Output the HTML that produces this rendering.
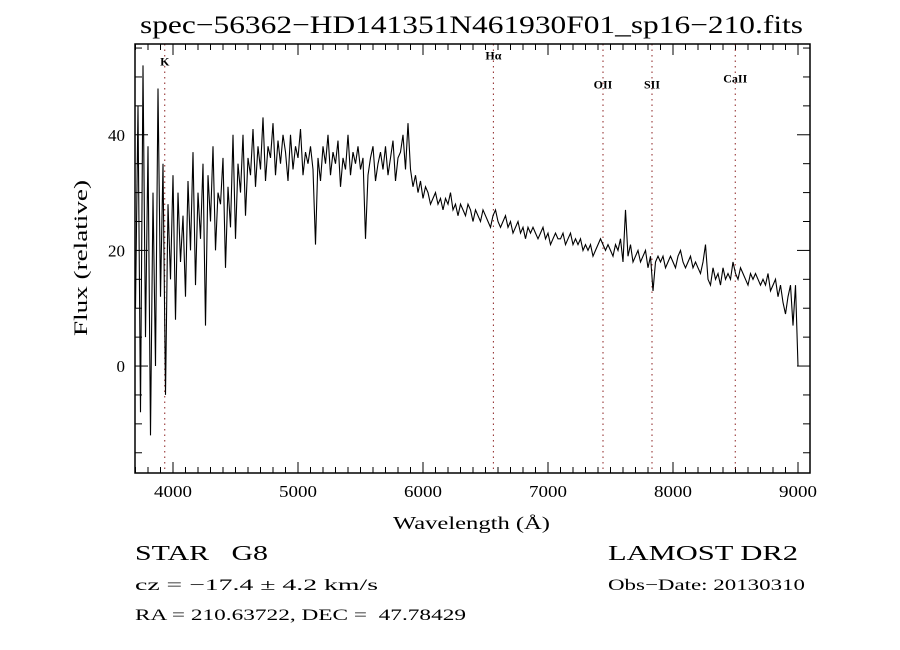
<!DOCTYPE html>
<html><head><meta charset="utf-8">
<style>
html,body{margin:0;padding:0;background:#fff;}
svg{display:block;font-family:"Liberation Serif",serif;}
</style></head>
<body>
<svg id="chart" width="900" height="650" viewBox="0 0 900 650">
<rect x="0" y="0" width="900" height="650" fill="#fff"/>
<text x="140" y="33" textLength="663" lengthAdjust="spacingAndGlyphs" font-size="25">spec−56362−HD141351N461930F01_sp16−210.fits</text>
<text x="393" y="529" textLength="157" lengthAdjust="spacingAndGlyphs" font-size="18">Wavelength (Å)</text>
<text transform="translate(87,336) rotate(-90)" textLength="156" lengthAdjust="spacingAndGlyphs" font-size="19">Flux (relative)</text>
<g id="axes"></g>
<g id="lines"></g>
<path id="spec" fill="none" stroke="#000" stroke-width="1.1"/>
<rect x="135" y="44" width="675" height="429" fill="none" stroke="#000" stroke-width="1.5"/>
<text x="135" y="560" textLength="133" lengthAdjust="spacingAndGlyphs" font-size="21">STAR &#160;&#160;G8</text>
<text x="608" y="560" textLength="190" lengthAdjust="spacingAndGlyphs" font-size="21">LAMOST DR2</text>
<text x="135" y="590" textLength="243" lengthAdjust="spacingAndGlyphs" font-size="16">cz = −17.4 ± 4.2 km/s</text>
<text x="608" y="590" textLength="197" lengthAdjust="spacingAndGlyphs" font-size="16">Obs−Date: 20130310</text>
<text x="135" y="620" textLength="331" lengthAdjust="spacingAndGlyphs" font-size="16">RA = 210.63722, DEC = &#160;47.78429</text>
</svg>
<script>
const xTicks = [4000,5000,6000,7000,8000,9000];
const yTicks = [0,20,40];
const lineNames = ["K","Hα","OII","SII","CaII"];
const lineWaves = [3934,6563,7440,7832,8498];
const lineLabelY = [52,53,48,48,49];
const wlStart = 3700, wlStep = 20;
const flux = [
10,45,-8,52,5,38,-12,30,0,48,
12,35,-5,28,15,33,8,30,18,26,
12,32,20,37,14,30,22,35,7,33,
25,38,20,30,28,36,17,31,24,40,
22,35,30,40,26,36,33,41,31,38,
34,43,32,38,36,42,33,39,35,40,
37,32,40,34,38,36,41,33,37,35,
38,34,21,36,32,38,35,40,33,37,
35,39,31,36,34,40,33,37,35,38,
34,36,22,33,36,38,32,35,37,34,
38,33,36,39,32,36,37,40,34,42,
34,31,33,30,32,29,31,30,28,29,
30,28,29,27,29,28,30,27,28,26,
28,27,26,28,27,25,27,26,25,27,
26,25,24,26,27,25,24,25,26,24,
25,23,24,25,23,24,22,24,23,24,
23,22,23,24,22,23,21,22,23,22,
22,23,21,22,23,21,22,21,22,20,
21,20,21,19,20,21,22,21,20,21,
20,19,21,20,22,18,27,19,21,18,
19,20,18,19,20,17,19,13,18,19,
18,19,17,18,19,18,17,19,20,18,
17,18,19,17,18,17,16,18,21,15,
14,17,15,16,14,17,15,16,15,18,
16,15,17,16,15,14,16,15,16,15,
14,15,14,16,13,14,15,12,14,11,
9,12,14,7,14,0
];
const X0=135,X1=810,Y0=44,Y1=473;
const xMin=3696,xMax=9096,yMin=-18.5,yMax=55.7;
const sx=v=>X0+(v-xMin)/(xMax-xMin)*(X1-X0);
const sy=v=>Y1-(v-yMin)/(yMax-yMin)*(Y1-Y0);
const NS="http://www.w3.org/2000/svg";
const axes=document.getElementById('axes');
function mk(tag,attrs,parent){const e=document.createElementNS(NS,tag);for(const k in attrs)e.setAttribute(k,attrs[k]);parent.appendChild(e);return e;}
for(let w=3700;w<=9096;w+=100){
  const major=w%1000===0;const L=major?11:6;const x=sx(w);
  const t=mk('line',{x1:x,x2:x,y1:Y1,y2:Y1-L,stroke:'#000','stroke-width':1},axes);
  
  
  const t2=mk('line',{x1:x,x2:x,y1:Y0,y2:Y0+L,stroke:'#000','stroke-width':1},axes);
  
  
}
xTicks.forEach(w=>{
  const t=mk('text',{x:sx(w)-19,y:Y1+24,textLength:38,lengthAdjust:'spacingAndGlyphs','font-size':17},axes);
  t.textContent=w;
  
  
});
for(let v=-15;v<=55;v+=5){
  const major=v%20===0;const L=major?13:7;const y=sy(v);
  const t=mk('line',{x1:X0,x2:X0+L,y1:y,y2:y,stroke:'#000','stroke-width':1},axes);
  
  
  const t2=mk('line',{x1:X1,x2:X1-L,y1:y,y2:y,stroke:'#000','stroke-width':1},axes);
  
  
}
yTicks.forEach(v=>{
  const t=mk('text',{x:X0-10,y:sy(v)+6,'text-anchor':'end','font-size':17},axes);
  t.textContent=v;
  
  
});
const lg=document.getElementById('lines');
lineWaves.forEach((w,i)=>{
  const x=sx(w);
  const l=mk('line',{x1:x,x2:x,y1:Y0,y2:Y1,stroke:'#8b2020','stroke-width':1,'stroke-dasharray':'1.5,4'},lg);
  
  
  const t=mk('text',{x:x,y:sy(lineLabelY[i]),'text-anchor':'middle','font-size':12,'font-weight':'bold'},lg);
  t.textContent=lineNames[i];
  
  
});
let d='';
flux.forEach((f,i)=>{const x=sx(wlStart+i*wlStep),y=sy(f);d+=(i?'L':'M')+x.toFixed(1)+','+y.toFixed(1);});
document.getElementById('spec').setAttribute('d',d);
</script>
</body></html>
